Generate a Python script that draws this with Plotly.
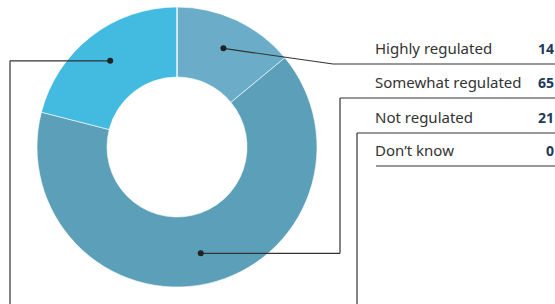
import math
import plotly.graph_objects as go

categories = ["Highly regulated", "Somewhat regulated", "Not regulated", "Don\u2019t know"]
values = [14, 65, 21, 0]
value_labels = ["14", "65", "21", "0"]
colors = ["#6badc8", "#5b9fb8", "#43bbe1", "#cccccc"]

W, H = 555, 304
CX, CY, R = 177, 147, 140

fig = go.Figure(go.Pie(
    labels=categories, values=values, hole=0.5, sort=False, direction="clockwise",
    rotation=0, marker=dict(colors=colors, line=dict(color="white", width=0.6)),
    textinfo="none", hoverinfo="label+value", showlegend=False,
    domain=dict(x=[(CX - R) / W, (CX + R) / W], y=[1 - (CY + R) / H, 1 - (CY - R) / H]),
))

def px(x):
    return x / W

def py(y):
    return 1 - y / H

shapes = []
annotations = []
line_style = dict(color="#333333", width=1.2)
total = sum(values)
row_y = [64, 98, 133, 166]
row_start = [333, 340, 357, 376]

# dot positions from slice midpoints
cum = 0
dots = []
for v in values:
    mid = (cum + v / 2) / total * 2 * math.pi
    cum += v
    r = 109
    dots.append((CX + r * math.sin(mid), CY - r * math.cos(mid)))

def seg(x0, y0, x1, y1):
    shapes.append(dict(type="line", xref="paper", yref="paper", x0=px(x0), y0=py(y0),
                       x1=px(x1), y1=py(y1), line=line_style))

def dot(x, y):
    shapes.append(dict(type="circle", xref="paper", yref="paper", x0=px(x - 3), x1=px(x + 3),
                       y0=py(y - 3), y1=py(y + 3), fillcolor="#222222", line=dict(width=0)))

# Highly regulated
d = dots[0]
seg(d[0], d[1], row_start[0], row_y[0]); seg(row_start[0], row_y[0], W, row_y[0]); dot(*d)
# Somewhat regulated
d = dots[1]
seg(d[0], d[1], 340, d[1]); seg(340, d[1], 340, row_y[1]); seg(340, row_y[1], W, row_y[1]); dot(*d)
# Not regulated
d = dots[2]
seg(d[0], d[1], 10, d[1]); seg(10, d[1], 10, H); seg(357, H, 357, row_y[2]); seg(357, row_y[2], W, row_y[2]); dot(*d)
# Don't know
seg(row_start[3], row_y[3], W, row_y[3])

for i, (c, vl) in enumerate(zip(categories, value_labels)):
    yc = row_y[i] - 16
    annotations.append(dict(text=c, xref="paper", yref="paper", x=px(373), y=py(yc),
                            xanchor="left", yanchor="middle", showarrow=False,
                            font=dict(family="Noto Sans", size=15, color="#333333")))
    annotations.append(dict(text="<b>%s</b>" % vl, xref="paper", yref="paper", x=px(556), y=py(yc),
                            xanchor="right", yanchor="middle", showarrow=False,
                            font=dict(family="Noto Sans", size=14, color="#1d3a57")))

fig.update_layout(width=W, height=H, margin=dict(l=0, r=0, t=0, b=0),
                  paper_bgcolor="white", plot_bgcolor="white",
                  shapes=shapes, annotations=annotations)
fig.write_html("out.html", config={"displayModeBar": False},
               post_script="document.body.style.margin='0';document.body.style.padding='0';")
